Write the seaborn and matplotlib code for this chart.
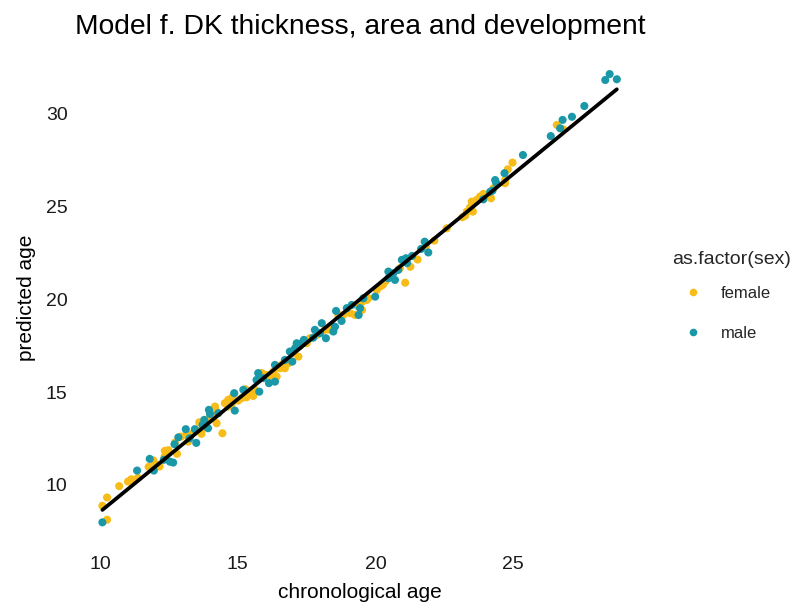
import matplotlib
matplotlib.use("Agg")
import matplotlib.pyplot as plt
import seaborn as sns
import pandas as pd
from matplotlib.lines import Line2D

# ---- data ----
female_x = [10.25, 10.08, 10.25, 10.69, 11.01, 11.13, 11.37, 11.76, 11.93, 12.03, 12.35, 12.48,
            12.79, 12.72, 13.12, 13.20, 13.60, 13.68, 13.87, 14.19, 14.11, 14.23, 14.44, 14.53,
            14.65, 14.80, 15.01, 15.28, 15.32, 15.56, 15.87, 16.05, 16.29, 16.53, 16.71, 16.98,
            17.20, 17.62, 17.87, 18.17, 18.35, 18.65, 19.08, 19.26, 19.68, 20.17, 20.27, 20.59,
            20.89, 21.08, 19.51, 21.53, 21.27, 21.83, 22.14, 22.59, 23.16, 23.26, 23.44, 23.50,
            23.54, 23.68, 23.92, 24.20, 24.29, 24.71, 24.81, 24.98, 26.59, 26.83, 14.17,
            14.65, 14.77, 15.14, 15.44, 15.62, 16.17, 16.41, 16.59, 16.83, 17.22, 13.99, 13.68,
            18.83, 19.38, 19.50, 19.74, 20.05, 20.35, 17.50, 12.16, 12.94, 13.31, 12.34,
            23.32, 23.80, 24.11, 24.71]
female_y = [8.12, 8.87, 9.32, 9.93, 10.18, 10.30, 10.38, 10.97, 11.32, 11.11, 11.83, 11.87,
            11.67, 12.28, 12.69, 12.33, 13.37, 12.75, 13.50, 14.04, 13.59, 13.32, 12.78, 14.40,
            14.58, 14.72, 14.54, 15.15, 14.72, 14.79, 16.02, 15.92, 16.10, 16.28, 16.28, 17.09,
            16.91, 17.90, 18.08, 18.35, 18.35, 19.15, 19.25, 19.15, 19.96, 20.68, 20.77, 21.31,
            21.67, 20.89, 19.42, 22.14, 21.75, 22.83, 23.16, 23.82, 24.42, 24.50, 24.95, 25.26,
            24.72, 25.35, 25.67, 25.44, 25.98, 26.25, 27.00, 27.36, 29.39, 29.15, 14.22,
            14.22, 14.31, 14.67, 14.94, 15.12, 15.75, 15.83, 16.46, 16.55, 17.45, 13.68, 12.96,
            19.15, 19.60, 19.84, 20.05, 20.50, 20.95, 17.63, 10.99, 12.60, 12.73, 11.52,
            24.72, 25.53, 25.62, 26.42]

male_x = [10.08, 11.34, 11.80, 11.95, 12.31, 12.53, 12.65, 12.70, 12.84, 13.11, 13.44, 13.49,
          13.72, 13.95, 13.92, 13.99, 14.29, 14.87, 14.89, 15.20, 15.78, 15.74, 16.13, 16.35,
          16.35, 16.71, 16.89, 16.98, 17.14, 17.32, 15.68, 17.40, 17.80, 18.05, 18.20, 18.53,
          18.57, 18.77, 18.96, 19.14, 19.44, 19.56, 19.99, 20.47, 20.47, 20.71, 20.83, 20.96,
          21.11, 21.15, 19.39, 21.33, 21.66, 21.79, 21.92, 23.92, 24.25, 24.35, 24.39, 24.69,
          25.36, 26.37, 26.71, 26.80, 27.14, 27.59, 28.35, 28.51, 28.77,
          15.92, 17.08, 13.78, 18.47, 20.65, 17.99, 17.74, 13.25, 24.17]
male_y = [7.98, 10.77, 11.40, 10.77, 11.35, 11.25, 11.20, 12.19, 12.56, 13.00, 13.00, 12.26,
          13.23, 14.04, 13.05, 13.82, 13.86, 14.94, 14.00, 15.12, 15.02, 16.02, 15.48, 15.56,
          16.46, 16.73, 17.18, 16.64, 17.63, 17.63, 15.65, 17.81, 18.35, 18.71, 17.90, 18.52,
          19.37, 18.83, 19.52, 19.69, 19.52, 20.05, 20.14, 21.13, 21.49, 21.04, 21.58, 22.12,
          22.21, 21.95, 19.15, 22.33, 22.71, 23.10, 22.52, 25.38, 25.85, 26.42, 26.26, 26.79,
          27.77, 28.79, 29.21, 29.66, 29.83, 30.41, 31.81, 32.13, 31.85,
          15.75, 17.36, 13.50, 18.26, 21.40, 18.17, 17.93, 12.51, 25.79]

line_x = [10.08, 28.77]
line_y = [8.65, 31.31]

sexes = ["female", "male"]
colors = {"female": "#F7BC17", "male": "#1A98A8"}

x_ticks = [10, 15, 20, 25]
y_ticks = [10, 15, 20, 25, 30]

df = pd.DataFrame({
    "chronological age": female_x + male_x,
    "predicted age": female_y + male_y,
    "sex": ["female"] * len(female_x) + ["male"] * len(male_x),
})
line_df = pd.DataFrame({"x": line_x, "y": line_y})

sns.set_theme(style="white")
plt.rcParams["font.family"] = ["Liberation Sans", "DejaVu Sans"]

fig = plt.figure(figsize=(7.93, 6.03), dpi=100)
ax = fig.add_axes([0.0958, 0.0962, 0.8108 - 0.0958, 0.9144 - 0.0962])

sns.scatterplot(data=df, x="chronological age", y="predicted age", hue="sex",
                hue_order=sexes, palette=colors, s=34, linewidth=0, ax=ax, legend=False)
sns.lineplot(data=line_df, x="x", y="y", color="black", linewidth=2.7, ax=ax)

ax.set_xlim(9.12, 29.72)
ax.set_ylim(6.76, 33.34)
ax.set_xticks(x_ticks)
ax.set_yticks(y_ticks)
ax.tick_params(axis="both", length=0, labelsize=14, colors="#1a1a1a")
ax.tick_params(axis="x", pad=8)
ax.tick_params(axis="y", pad=6)
for s in ax.spines.values():
    s.set_visible(False)
ax.grid(False)
ax.set_xlabel("chronological age", fontsize=15, color="black", labelpad=7)
ax.set_ylabel("predicted age", fontsize=15, color="black", labelpad=7)

fig.text(0.0945, 0.955, "Model f. DK thickness, area and development",
         fontsize=20.3, ha="left", va="center", color="black")

handles = [Line2D([0], [0], marker="o", linestyle="none", markersize=5.5,
                  markerfacecolor=colors[s], markeredgewidth=0) for s in sexes]
leg = fig.legend(handles=handles, labels=sexes, title="as.factor(sex)",
                 loc="center left", bbox_to_anchor=(0.847, 0.509), frameon=False,
                 fontsize=12, title_fontsize=14, handlelength=2.6, handletextpad=0.35,
                 labelspacing=1.5, borderaxespad=0, borderpad=0)
leg._legend_box.align = "left"
leg._legend_box.sep = 12.5

fig.savefig("out.png", dpi=100)
